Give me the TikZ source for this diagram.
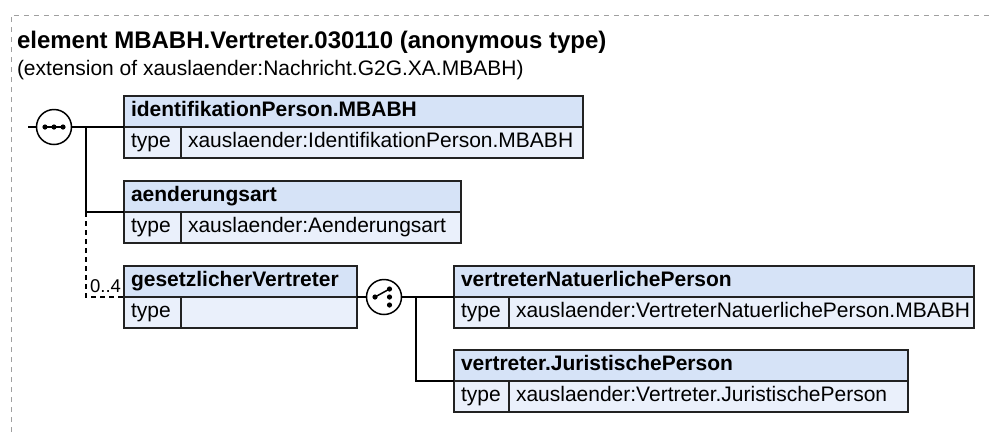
\documentclass[tikz,border=0pt]{standalone}
\usepackage{fontspec}
\setmainfont{Liberation Sans}
\usetikzlibrary{positioning}
\definecolor{hdrblue}{RGB}{214,227,247}
\definecolor{rowblue}{RGB}{234,240,251}
\definecolor{boxline}{RGB}{34,34,34}
\definecolor{framegray}{RGB}{160,160,160}

\begin{document}
\begin{tikzpicture}[x=1pt,y=-1pt]
\tikzstyle{every node}=[font=\fontsize{21}{25}\selectfont, outer sep=0pt]
\tikzstyle{cell}=[draw=boxline, line width=1.5pt, inner xsep=7pt, inner ysep=0pt, minimum height=31pt, text height=15pt, text depth=4.5pt, align=left, anchor=north west]
\tikzstyle{hdr}=[cell, fill=hdrblue, font=\fontsize{21}{25}\selectfont\bfseries]
\tikzstyle{typ}=[cell, fill=rowblue]
\tikzstyle{cmp}=[circle, draw, line width=1.5pt, fill=white, minimum size=35pt, inner sep=0pt]
\tikzstyle{wire}=[line width=1.5pt]
\tikzstyle{occ}=[wire, dash pattern=on 5pt off 4pt]
\useasboundingbox (0,0) rectangle (992,432);
\draw [framegray, line width=1pt, dash pattern=on 5pt off 5pt] (11,432) -- (11,15) -- (992,15);
\node[anchor=base west, inner sep=0pt, font=\fontsize{24}{28}\selectfont\bfseries] (title) at (17,48) {element MBABH.Vertreter.030110 (anonymous type)};
\node[anchor=base west, inner sep=0pt] (ext) at (17,75) {(extension of xauslaender:Nachricht.G2G.XA.MBABH)};
% sequence
\node[cmp] (seq) at (54,127) {};
\draw[wire, shift={(seq.center)}] (-11,0) -- (11,0);
\fill[shift={(seq.center)}] (-9,0) circle (2.6pt) (0,0) circle (2.6pt) (9,0) circle (2.6pt);
\coordinate (entry) at (28,127);
\coordinate (seqbus) at (86,127);
% identifikationPerson.MBABH
\node[hdr, text width=445pt] (idhead) at (124,96) {identifikationPerson.MBABH};
\node[typ, text width=43pt] (idtype) at (idhead.south west) {type};
\node[typ, text width=388pt] (idval) at (idtype.north east) {xauslaender:IdentifikationPerson.MBABH};
% aenderungsart
\node[hdr, text width=323pt] (aendhead) at (124,181) {aenderungsart};
\node[typ, text width=43pt] (aendtype) at (aendhead.south west) {type};
\node[typ, text width=266pt] (aendval) at (aendtype.north east) {xauslaender:Aenderungsart};
% gesetzlicherVertreter
\node[hdr, text width=219pt] (gesvhead) at (124,266) {gesetzlicherVertreter};
\node[typ, text width=43pt] (gesvtype) at (gesvhead.south west) {type};
\node[typ, text width=162pt] (gesvval) at (gesvtype.north east) {};
\node[anchor=base east, inner sep=0pt, font=\fontsize{18.5}{22}\selectfont] (gesvocc) at (121,292) {0..4};
% choice
\node[cmp] (choice) at (384,297) {};
\draw[wire, shift={(choice.center)}] (-9,0) -- (5.5,-8);
\fill[shift={(choice.center)}] (-9,0) circle (2.6pt) (5.5,-8) circle (2.6pt) (5.5,0) circle (2.6pt) (5.5,8) circle (2.6pt);
\coordinate (chbus) at (416,297);
% vertreterNatuerlichePerson
\node[hdr, text width=506pt] (vnphead) at (454,266) {vertreterNatuerlichePerson};
\node[typ, text width=41pt] (vnptype) at (vnphead.south west) {type};
\node[typ, text width=451pt] (vnpval) at (vnptype.north east) {xauslaender:VertreterNatuerlichePerson.MBABH};
% vertreter.JuristischePerson
\node[hdr, text width=440pt] (vjphead) at (454,350) {vertreter.JuristischePerson};
\node[typ, text width=41pt] (vjptype) at (vjphead.south west) {type};
\node[typ, text width=385pt] (vjpval) at (vjptype.north east) {xauslaender:Vertreter.JuristischePerson};
% wires
\draw[wire] (entry) -- (seq);
\draw[wire] (seq) -- (idhead.south west);
\draw[wire] (seqbus) |- (aendhead.south west);
\draw[occ] (seqbus |- aendhead.south west) |- (gesvhead.south west);
\draw[wire] (gesvhead.south east) -- (choice);
\draw[wire] (choice) -- (vnphead.south west);
\draw[wire] (chbus) |- (vjphead.south west);
\end{tikzpicture}
\end{document}
